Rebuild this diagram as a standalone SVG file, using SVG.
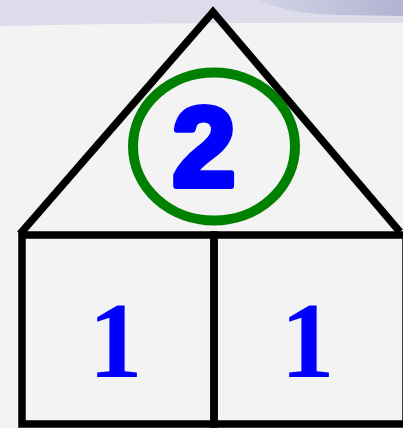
<svg xmlns="http://www.w3.org/2000/svg" width="403" height="428" viewBox="0 0 403 428">
<defs>
<linearGradient id="wave" x1="0" y1="0" x2="1" y2="0">
<stop offset="0" stop-color="#d4d4e6"/>
<stop offset="1" stop-color="#b2b2d2"/>
</linearGradient>
<style>
.ln{fill:none;stroke:#000;stroke-width:7.5;stroke-linejoin:miter}
.one{font-family:'Liberation Serif','Times New Roman',serif;font-weight:bold;font-size:108px;fill:#0000ff;text-anchor:middle}
</style>
</defs>
<rect width="403" height="428" fill="#f3f3f3"/>
<path d="M0 0H403V23Q200 22 0 26Z" fill="#dcdcea"/>
<path d="M258 0Q290 14 340 15L403 16V0Z" fill="url(#wave)"/>
<g id="roof">
<path class="ln" d="M20 234L213 12L400 232"/>
</g>
<g id="whole">
<ellipse cx="214" cy="146.5" rx="81" ry="74" fill="none" stroke="#008000" stroke-width="10"/>
<text x="204" y="186" font-family="'Liberation Sans',Arial,sans-serif" font-weight="bold" font-size="114" fill="#0000ff" stroke="#0000ff" stroke-width="6" stroke-linejoin="round" text-anchor="middle">2</text>
</g>
<g id="part-left">
<rect class="ln" x="22" y="235" width="192" height="189"/>
<text class="one" x="115.5" y="377">1</text>
</g>
<g id="part-right">
<rect class="ln" x="214" y="235" width="192" height="189"/>
<text class="one" x="307.5" y="377">1</text>
</g>
</svg>
